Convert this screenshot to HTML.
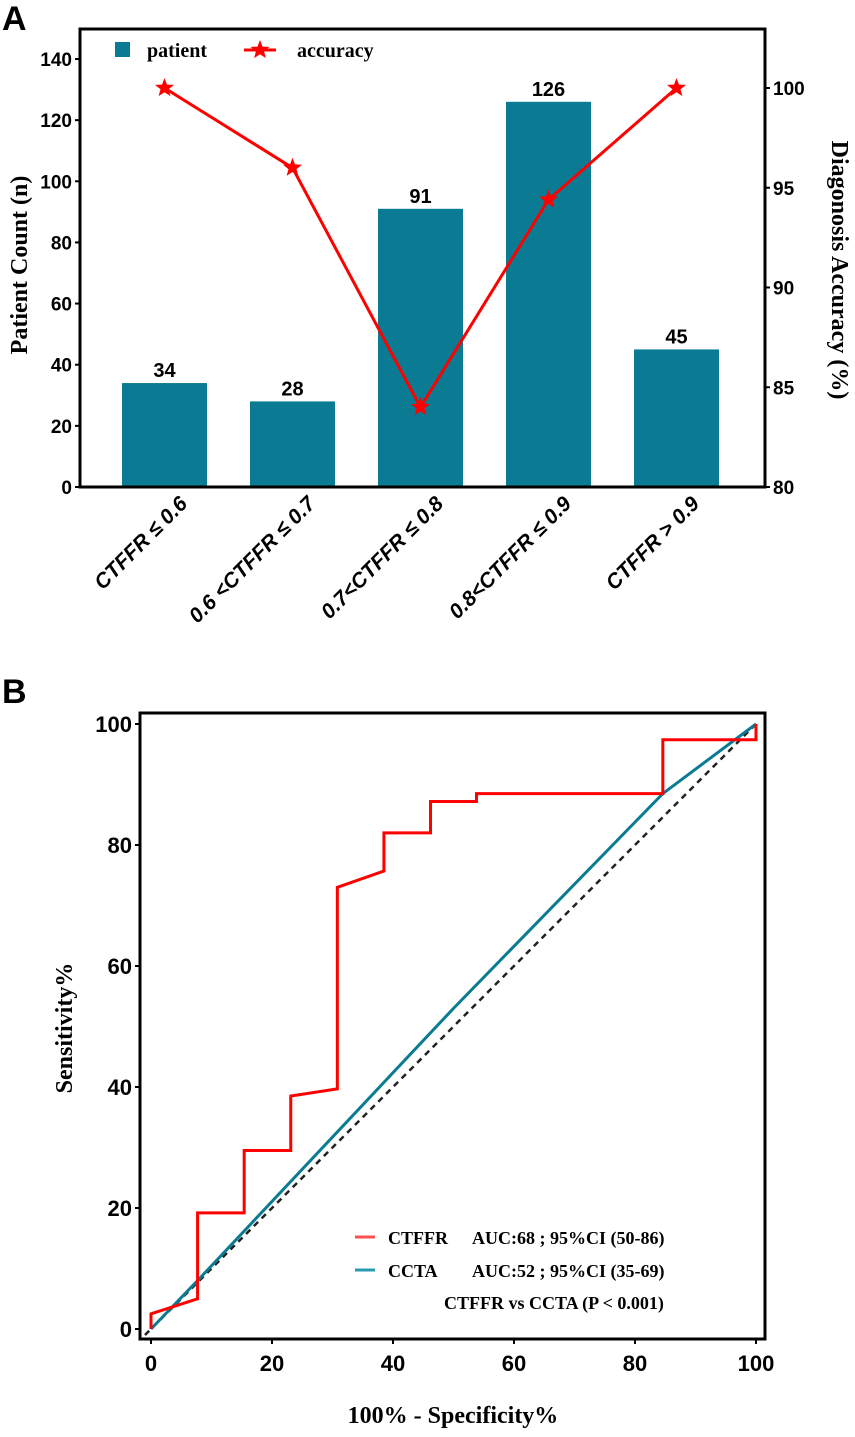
<!DOCTYPE html>
<html><head><meta charset="utf-8"><style>
html,body{margin:0;padding:0;background:#fff;}
svg{display:block;}
.sans{font-family:"Liberation Sans",sans-serif;font-weight:bold;}
.serif{font-family:"Liberation Serif",serif;font-weight:bold;}
</style></head><body>
<svg id="fig" width="855" height="1437" viewBox="0 0 855 1437" xmlns="http://www.w3.org/2000/svg">
<text x="2" y="30" class="sans" font-size="34">A</text>
<text x="2" y="703" class="sans" font-size="34">B</text>
<g id="pa"></g>
<g id="pb"></g>
</svg>
<script>
const categories = ["CTFFR \u2264 0.6", "0.6 <CTFFR \u2264 0.7", "0.7<CTFFR \u2264 0.8", "0.8<CTFFR \u2264 0.9", "CTFFR > 0.9"];
const patientCounts = [34, 28, 91, 126, 45];
const accuracy = [100, 96, 84, 94.4, 100];
const leftTicks = [0, 20, 40, 60, 80, 100, 120, 140];
const rightTicks = [80, 85, 90, 95, 100];
const ctffrX = [0, 0, 7.7, 7.7, 15.4, 15.4, 23.1, 23.1, 30.8, 30.8, 38.5, 38.5, 46.2, 46.2, 53.8, 53.8, 84.6, 84.6, 100, 100];
const ctffrY = [0, 2.5, 5, 19.2, 19.2, 29.5, 29.5, 38.5, 39.7, 73, 75.7, 82, 82, 87.2, 87.2, 88.5, 88.5, 97.4, 97.4, 100];
const cctaX = [0, 7.7, 50, 84.6, 100];
const cctaY = [0, 8, 53, 88.5, 100];
const rocTicks = [0, 20, 40, 60, 80, 100];

const NS = "http://www.w3.org/2000/svg";
function mk(parent, tag, attrs, text) {
  const e = document.createElementNS(NS, tag);
  for (const k in attrs) e.setAttribute(k, attrs[k]);
  if (text !== undefined) e.textContent = text;
  parent.appendChild(e);
  return e;
}
function starPts(cx, cy, R, r) {
  let p = [];
  for (let i = 0; i < 10; i++) {
    const a = -Math.PI / 2 + i * Math.PI / 5, rr = i % 2 ? r : R;
    p.push((cx + rr * Math.cos(a)).toFixed(1) + "," + (cy + rr * Math.sin(a)).toFixed(1));
  }
  return p.join(" ");
}

// ---------- Panel A ----------
const pa = document.getElementById("pa");
const A = {l: 80, r: 765, t: 29, b: 487};
const yL = v => A.b - v * (A.b - 59) / 140;
const yR = v => A.b - (v - 80) * (A.b - 88) / 20;
const xC = i => 164.5 + i * 128;
const barW = 85;

patientCounts.forEach((v, i) => {
  const r = mk(pa, "rect", {x: xC(i) - barW / 2, y: yL(v), width: barW, height: A.b - yL(v), fill: "#0a7b93"});
  
  
  const t = mk(pa, "text", {x: xC(i), y: yL(v) - 6, "text-anchor": "middle", class: "sans", "font-size": "20"}, String(v));
  
  
});
const frameA = mk(pa, "path", {d: `M${A.l},${A.b} V${A.t} H${A.r} V${A.b} Z`, fill: "none", stroke: "#000", "stroke-width": "3"});



leftTicks.forEach(v => {
  mk(pa, "line", {x1: A.l - 5, x2: A.l, y1: yL(v), y2: yL(v), stroke: "#000", "stroke-width": "2"});
  const t = mk(pa, "text", {x: A.l - 8, y: yL(v) + 7, "text-anchor": "end", class: "sans", "font-size": "19"}, String(v));
  
  
});
rightTicks.forEach(v => {
  mk(pa, "line", {x1: A.r, x2: A.r + 5, y1: yR(v), y2: yR(v), stroke: "#000", "stroke-width": "2"});
  const t = mk(pa, "text", {x: A.r + 8, y: yR(v) + 7, class: "sans", "font-size": "19"}, String(v));
  
  
});
const accLine = mk(pa, "polyline", {points: accuracy.map((v, i) => xC(i) + "," + yR(v)).join(" "), fill: "none", stroke: "#ff0000", "stroke-width": "3"});


accuracy.forEach((v, i) => {
  const s = mk(pa, "polygon", {points: starPts(xC(i), yR(v), 10, 4.2), fill: "#ff0000"});
  
  
});
categories.forEach((c, i) => {
  const x = xC(i) + 24, y = 505;
  const t = mk(pa, "text", {x: x, y: y, "text-anchor": "end", class: "sans", "font-size": "21", "font-style": "italic", transform: `rotate(-45 ${x} ${y})`}, c);
  
  
});
// legend A
const lgA = mk(pa, "g", {});


mk(lgA, "rect", {x: 115, y: 42, width: 15, height: 15, fill: "#0a7b93"});
mk(lgA, "text", {x: 147, y: 57, class: "serif", "font-size": "20"}, "patient");
mk(lgA, "line", {x1: 244, x2: 276, y1: 50, y2: 50, stroke: "#ff0000", "stroke-width": "3"});
mk(lgA, "polygon", {points: starPts(260, 50, 10, 4.2), fill: "#ff0000"});
mk(lgA, "text", {x: 297, y: 57, class: "serif", "font-size": "20"}, "accuracy");
const ytA = mk(pa, "text", {x: 0, y: 0, "text-anchor": "middle", class: "serif", "font-size": "24", transform: "translate(27 265) rotate(-90)"}, "Patient Count (n)");


const ytR = mk(pa, "text", {x: 0, y: 0, "text-anchor": "middle", class: "serif", "font-size": "24", transform: "translate(832 270) rotate(90)"}, "Diagonosis Accuracy (%)");



// ---------- Panel B ----------
const pb = document.getElementById("pb");
const B = {l: 140, r: 765, t: 713, b: 1339};
const bx = v => 151 + v * 6.05;
const by = v => 1329 - v * 6.05;
const diag = mk(pb, "line", {x1: bx(-1), y1: by(-1), x2: bx(100), y2: by(100), stroke: "#222", "stroke-width": "2.5", "stroke-dasharray": "6,5"});


const cc = mk(pb, "polyline", {points: cctaX.map((v, i) => bx(v) + "," + by(cctaY[i])).join(" "), fill: "none", stroke: "#0a7b93", "stroke-width": "3"});


const cf = mk(pb, "polyline", {points: ctffrX.map((v, i) => bx(v) + "," + by(ctffrY[i])).join(" "), fill: "none", stroke: "#ff0000", "stroke-width": "3"});


const frameB = mk(pb, "rect", {x: B.l, y: B.t, width: B.r - B.l, height: B.b - B.t, fill: "none", stroke: "#000", "stroke-width": "3"});


rocTicks.forEach(v => {
  mk(pb, "line", {x1: B.l - 5, x2: B.l, y1: by(v), y2: by(v), stroke: "#000", "stroke-width": "2"});
  const t = mk(pb, "text", {x: B.l - 8, y: by(v) + 8, "text-anchor": "end", class: "sans", "font-size": "22"}, String(v));
  
  
  mk(pb, "line", {x1: bx(v), x2: bx(v), y1: B.b, y2: B.b + 5, stroke: "#000", "stroke-width": "2"});
  const t2 = mk(pb, "text", {x: bx(v), y: 1371, "text-anchor": "middle", class: "sans", "font-size": "22"}, String(v));
  
  
});
const lgB = mk(pb, "g", {});


mk(lgB, "line", {x1: 355, x2: 375, y1: 1237, y2: 1237, stroke: "#ff5050", "stroke-width": "3"});
mk(lgB, "text", {x: 388, y: 1244, class: "serif", "font-size": "18"}, "CTFFR");
mk(lgB, "text", {x: 472, y: 1244, class: "serif", "font-size": "18"}, "AUC:68 ; 95%CI (50-86)");
mk(lgB, "line", {x1: 355, x2: 375, y1: 1270, y2: 1270, stroke: "#2a9ab0", "stroke-width": "3"});
mk(lgB, "text", {x: 388, y: 1277, class: "serif", "font-size": "18"}, "CCTA");
mk(lgB, "text", {x: 472, y: 1277, class: "serif", "font-size": "18"}, "AUC:52 ; 95%CI  (35-69)");
mk(lgB, "text", {x: 444, y: 1309, class: "serif", "font-size": "18"}, "CTFFR vs CCTA (P < 0.001)");
const ytB = mk(pb, "text", {x: 0, y: 0, "text-anchor": "middle", class: "serif", "font-size": "24", transform: "translate(72 1028) rotate(-90)"}, "Sensitivity%");


const xtB = mk(pb, "text", {x: 453, y: 1423, "text-anchor": "middle", class: "serif", "font-size": "24"}, "100% - Specificity%");


</script>
</body></html>
